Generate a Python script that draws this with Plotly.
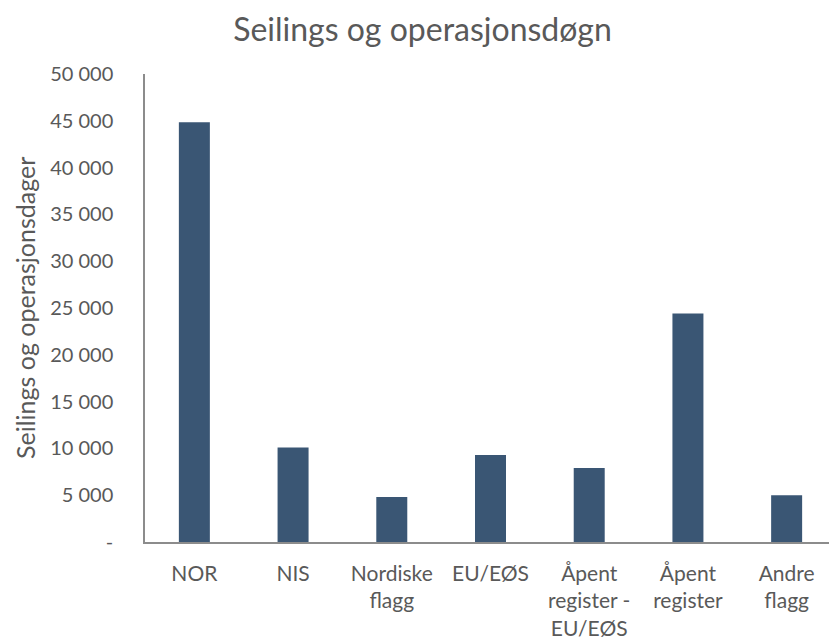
import plotly.graph_objects as go

categories = ["NOR", "NIS", "Nordiske<br>flagg", "EU/EØS", "Åpent<br>register -<br>EU/EØS", "Åpent<br>register", "Andre<br>flagg"]
values = [44850, 10100, 4800, 9300, 7900, 24400, 5000]
tick_vals = [0, 5000, 10000, 15000, 20000, 25000, 30000, 35000, 40000, 45000, 50000]
tick_text = ["-", "5 000", "10 000", "15 000", "20 000", "25 000", "30 000", "35 000", "40 000", "45 000", "50 000"]
y_title = "Seilings og operasjonsdager"

FONT = "Lato"
GREY = "#595959"
AXIS = "#8c8c8c"

fig = go.Figure(go.Bar(x=categories, y=values, marker=dict(color="#3A5674", line=dict(width=0))))

# page body has an 8px margin; compensate so the chart lands where the reference has it
fig.update_layout(
    width=829, height=634,
    margin=dict(l=137, r=1, t=66, b=100),
    paper_bgcolor="white", plot_bgcolor="white",
    bargap=0.686,
    showlegend=False,
    font=dict(family=FONT, color=GREY, size=20),
    title=dict(text="Seilings og operasjonsdøgn", x=0.5, xanchor="center", y=0.966, yanchor="middle",
               font=dict(family=FONT, size=32, color=GREY)),
    annotations=[dict(text=y_title, textangle=-90, xref="paper", yref="paper", x=-0.1737, y=0.5,
                      xanchor="center", yanchor="middle", showarrow=False,
                      font=dict(family=FONT, size=25, color=GREY))],
)
fig.update_xaxes(showline=True, linecolor=AXIS, linewidth=1.5, showgrid=False, ticks="", automargin=False,
                 tickfont=dict(size=21, color=GREY), ticklabelstandoff=12)
fig.update_yaxes(range=[0, 50000], tickvals=tick_vals, ticktext=tick_text, showline=True, linecolor=AXIS,
                 linewidth=1.5, showgrid=False, zeroline=False, ticks="", ticklabelstandoff=26, automargin=False,
                 tickfont=dict(size=20, color=GREY))

fig.write_html("out.html")
